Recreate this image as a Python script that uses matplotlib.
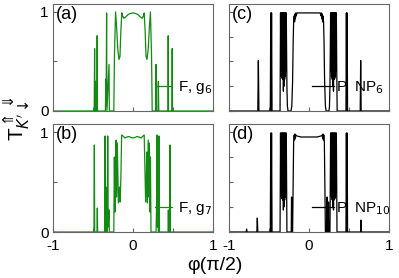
import matplotlib
matplotlib.use("Agg")
import matplotlib.pyplot as plt

plt.rcParams['font.family'] = ['Liberation Sans', 'DejaVu Sans']
plt.rcParams['axes.unicode_minus'] = False

# ---------------- data ----------------
xa = [-1, -0.485, -0.480, -0.476, -0.470, -0.466, -0.452, -0.448, -0.444,
      -0.345, -0.340, -0.336, -0.330, -0.326, -0.300, -0.296, -0.250,
      -0.240, -0.232, -0.218, -0.205, -0.190, -0.175, -0.163, -0.152, -0.140,
      -0.130, -0.115, -0.090, -0.060, -0.030, 0.000, 0.030, 0.060, 0.090,
      0.115, 0.130, 0.140, 0.152, 0.163, 0.175, 0.190, 0.205, 0.218, 0.232,
      0.240, 0.283, 0.2875, 0.292, 0.312, 0.317, 0.322,
      0.436, 0.440, 0.444, 0.486, 0.490, 0.494, 1]
ya = [0, 0, 0.63, 0, 0.30, 0, 0, 0.76, 0,
      0, 0.32, 0.05, 0.99, 0.0, 0.47, 0, 0,
      0.0, 0.55, 1.0, 0.85, 0.62, 0.52, 0.55, 0.80, 0.99,
      0.96, 0.935, 0.95, 0.975, 0.985, 0.99, 0.985, 0.975, 0.95,
      0.935, 0.96, 0.99, 0.80, 0.55, 0.52, 0.62, 0.85, 1.0, 0.55,
      0.0, 0, 0.47, 0, 0, 0.30, 0,
      0, 0.76, 0, 0, 0.63, 0, 0]

xb = [-1, -0.488, -0.483, -0.479, -0.450, -0.446, -0.442,
      -0.355, -0.350, -0.344, -0.337, -0.330, -0.322, -0.316, -0.310, -0.300, -0.296,
      -0.240, -0.233, -0.226, -0.219, -0.2125, -0.205, -0.196, -0.183, -0.170, -0.160,
      -0.150, -0.142, -0.125, -0.100, -0.075, -0.050, -0.025, 0.000, 0.025, 0.050,
      0.075, 0.100, 0.125, 0.140, 0.150, 0.158, 0.165, 0.172, 0.180, 0.190, 0.198,
      0.205, 0.212, 0.218, 0.225, 0.288, 0.294, 0.300, 0.306, 0.312, 0.318, 0.325,
      0.331, 0.438, 0.442, 0.446, 0.458, 0.462, 0.466, 1]
yb = [0, 0, 0.87, 0, 0, 0.24, 0,
      0, 0.96, 0.0, 0.45, 0.0, 0.0, 0.96, 0.05, 0.22, 0,
      0, 0.75, 0.20, 0.60, 0.92, 0.35, 0.89, 0.29, 0.45, 0.30,
      0.60, 0.97, 0.96, 0.94, 0.95, 0.955, 0.945, 0.94, 0.945, 0.955,
      0.95, 0.94, 0.96, 0.97, 0.60, 0.30, 0.45, 0.80, 0.29, 0.92, 0.35,
      0.89, 0.20, 0.75, 0.0, 0, 0.22, 0.97, 0.05, 0.45, 0.0, 0.96,
      0, 0, 0.22, 0, 0, 0.87, 0, 0]

xc = [-1, -0.640, -0.633, -0.626, -0.484, -0.478, -0.473, -0.468, -0.462, -0.362,
      -0.356, -0.352, -0.348, -0.344, -0.340, -0.336, -0.332, -0.328, -0.324, -0.320,
      -0.316, -0.312, -0.308, -0.304, -0.300, -0.296, -0.292, -0.288, -0.284,
      -0.280, -0.276, -0.270, -0.262, -0.225, -0.215, -0.205, -0.198, -0.192,
      -0.185, -0.180, -0.175, -0.170, -0.165, -0.160, -0.150, -0.100, 0.000, 0.100,
      0.140, 0.150, 0.155, 0.160, 0.165, 0.170, 0.175, 0.182,
      0.188, 0.195, 0.205, 0.215, 0.250, 0.256, 0.262, 0.266,
      0.270, 0.274, 0.278, 0.282, 0.286, 0.290, 0.294, 0.298, 0.302, 0.306,
      0.310, 0.314, 0.318, 0.322, 0.326, 0.330, 0.334, 0.338, 0.342, 0.346, 0.352,
      0.462, 0.467, 0.472, 0.477, 0.482, 0.640, 0.646, 0.652, 1]
yc = [0, 0, 0.51, 0, 0, 0.99, 0, 0.99, 0, 0,
      0.99, 0.40, 0.99, 0.35, 0.99, 0.33, 0.99, 0.32, 0.99, 0.20,
      0.99, 0.25, 0.99, 0.32, 0.99, 0.35, 0.99, 0.40, 0.99,
      0.60, 0.25, 0.05, 0.0, 0.0, 0.05, 0.30, 0.70, 0.90,
      0.96, 0.90, 0.98, 0.93, 0.99, 0.96, 0.99, 0.99, 0.99, 0.99,
      0.99, 0.96, 0.99, 0.93, 0.98, 0.90, 0.96, 0.90,
      0.70, 0.30, 0.05, 0.0, 0.0, 0.05, 0.25, 0.60,
      0.99, 0.40, 0.99, 0.35, 0.99, 0.32, 0.99, 0.25, 0.99, 0.20,
      0.99, 0.32, 0.99, 0.33, 0.99, 0.35, 0.99, 0.40, 0.99, 0.50, 0.0,
      0, 0.99, 0, 0.99, 0, 0, 0.51, 0, 0]

xd = [-1, -0.785, -0.780, -0.775, -0.652, -0.646, -0.640, -0.484, -0.478, -0.473,
      -0.468, -0.462, -0.362,
      -0.356, -0.352, -0.348, -0.344, -0.340, -0.336, -0.332, -0.328, -0.324, -0.320,
      -0.316, -0.312, -0.308, -0.304, -0.300, -0.296, -0.292, -0.288, -0.284,
      -0.280, -0.276, -0.222, -0.218, -0.214, -0.205, -0.198, -0.192,
      -0.185, -0.180, -0.175, -0.170, -0.165, -0.150, -0.100, 0.000, 0.100, 0.150,
      0.165, 0.170, 0.175, 0.180, 0.185,
      0.192, 0.198, 0.205, 0.222, 0.226, 0.230, 0.240, 0.244, 0.248, 0.262, 0.266,
      0.270, 0.274, 0.278, 0.282, 0.286, 0.290, 0.294, 0.298, 0.302, 0.306,
      0.310, 0.314, 0.318, 0.322, 0.326, 0.330, 0.334, 0.338, 0.342, 0.346, 0.350,
      0.462, 0.467, 0.472, 0.477, 0.482, 0.646, 0.650, 0.654, 1]
yd = [0, 0, 0.03, 0, 0, 0.14, 0, 0, 0.99, 0,
      0.99, 0, 0,
      0.99, 0.40, 0.99, 0.35, 0.99, 0.33, 0.99, 0.32, 0.99, 0.22,
      0.99, 0.25, 0.99, 0.32, 0.99, 0.35, 0.99, 0.40, 0.99,
      0.50, 0.0, 0.0, 0.35, 0.0, 0.0, 0.50, 0.90,
      0.97, 0.92, 0.98, 0.94, 0.97, 0.96, 0.95, 0.95, 0.95, 0.96,
      0.97, 0.94, 0.98, 0.92, 0.97,
      0.90, 0.50, 0.0, 0.0, 0.35, 0.0, 0.0, 0.30, 0.0, 0.0, 0.50,
      0.99, 0.40, 0.99, 0.35, 0.99, 0.32, 0.99, 0.25, 0.99, 0.22,
      0.99, 0.32, 0.99, 0.33, 0.99, 0.35, 0.99, 0.40, 0.99, 0.50, 0.0,
      0, 0.99, 0, 0.99, 0, 0, 0.12, 0, 0]

panels = [("(a)", xa, ya, "F, g$_6$"), ("(c)", xc, yc, "P  NP$_6$"),
          ("(b)", xb, yb, "F, g$_7$"), ("(d)", xd, yd, "P  NP$_{10}$")]
colors = ["#138a13", "black", "#138a13", "black"]
xtick_major = [-1, 0, 1]
xtick_minor = [-0.5, 0.5]
ytick_major = [0, 1]

# ---------------- figure ----------------
W, H = 399, 278
fig = plt.figure(figsize=(W / 100, H / 100), dpi=100)
boxes = [(53, 4, 160, 107), (229, 4, 160, 107), (53, 124, 160, 108), (229, 124, 160, 108)]
spine_col = "#666666"

for i, ((tag, xs, ys, lab), (l, t, w, h)) in enumerate(zip(panels, boxes)):
    ax = fig.add_axes([l / W, 1 - (t + h) / H, w / W, h / H])
    ax.plot(xs, ys, color=colors[i], lw=0.9, label=lab)
    ax.set_xlim(-1, 1)
    ax.set_ylim(0, 1.08)
    ax.set_xticks(xtick_major)
    ax.set_xticks(xtick_minor, minor=True)
    ax.set_yticks(ytick_major)
    if i % 2 == 1:
        ax.set_yticks([0.25, 0.5, 0.75], minor=True)
        ax.set_yticklabels([])
    else:
        ax.set_yticks([0.5], minor=True)
        ax.set_yticklabels(["0", "1"])
    if i < 2:
        ax.set_xticklabels([])
    else:
        ax.set_xticklabels(["-1", "0", "1"])
    ax.tick_params(which="both", direction="in", length=3, width=0.8,
                   color=spine_col, labelsize=11)
    ax.tick_params(axis="x", pad=5)
    ax.tick_params(axis="y", pad=3)
    for s in ax.spines.values():
        s.set_color(spine_col)
        s.set_linewidth(0.8)
    ax.text(0.02, 0.985, tag, transform=ax.transAxes, va="top", ha="left", fontsize=13)
    if i % 2 == 0:
        ax.legend(loc="center left", bbox_to_anchor=(0.64, 0.215), handlelength=1.1,
                  handletextpad=0.35, borderpad=0, borderaxespad=0, frameon=False,
                  fontsize=11)
    else:
        ax.legend(loc="center left", bbox_to_anchor=(0.52, 0.215), handlelength=1.4,
                  handletextpad=0.15, borderpad=0, borderaxespad=0, frameon=False,
                  fontsize=11)

fig.text(215 / W, 1 - 265 / H, "φ(π/2)", ha="center", va="center", fontsize=14)
fig.text(16 / W, 1 - 118 / H, r"T$^{\Uparrow\Downarrow}_{K'\downarrow}$", rotation=90,
         ha="center", va="center", fontsize=15)

fig.savefig("out.png", dpi=100)
